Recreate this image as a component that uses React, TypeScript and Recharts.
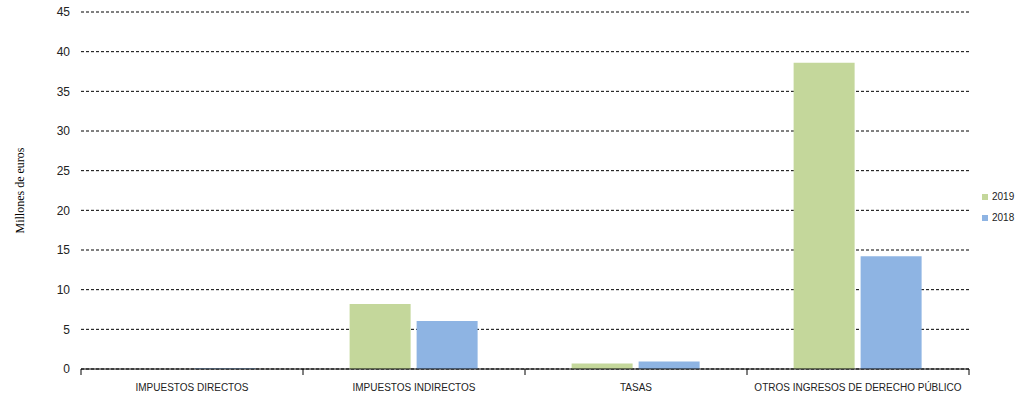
import React from 'react';
import { BarChart, Bar, XAxis, YAxis, CartesianGrid, Legend, Label } from 'recharts';

// categories and values (millions of euros)
const categories = ['IMPUESTOS DIRECTOS', 'IMPUESTOS INDIRECTOS', 'TASAS', 'OTROS INGRESOS DE DERECHO PÚBLICO'];
const values2019 = [0, 8.2, 0.7, 38.6];
const values2018 = [0.1, 6.05, 0.95, 14.2];
const yTicks = [0, 5, 10, 15, 20, 25, 30, 35, 40, 45];

const data = categories.map((name, i) => ({ name, y2019: values2019[i], y2018: values2018[i] }));

const WIDTH = 1021;
const HEIGHT = 399;
const MARGIN = { top: 12, right: 52, bottom: 0, left: 0 };
const Y_AXIS_WIDTH = 81;
const BAND = (WIDTH - MARGIN.left - MARGIN.right - Y_AXIS_WIDTH) / categories.length;

const CategoryTick = (props: any) => {
  const { x, y, payload } = props;
  const last = payload.index === categories.length - 1;
  return (
    <g>
      <line x1={x - BAND / 2} x2={x - BAND / 2} y1={y} y2={y + 6} stroke="#000" />
      {last && <line x1={x + BAND / 2} x2={x + BAND / 2} y1={y} y2={y + 6} stroke="#000" />}
      <text x={x} y={y + 22} textAnchor="middle" fontSize={10} fill="#222" fontFamily="'Liberation Sans', Arial, sans-serif">
        {payload.value}
      </text>
    </g>
  );
};

const YTitle = (props: any) => {
  const { viewBox } = props;
  const cx = viewBox.x + 20;
  const cy = viewBox.y + viewBox.height / 2;
  return (
    <text
      x={cx}
      y={cy}
      transform={`rotate(-90, ${cx}, ${cy})`}
      textAnchor="middle"
      dominantBaseline="central"
      fontSize={12}
      fill="#000"
      fontFamily="'Liberation Serif', 'Times New Roman', serif"
    >
      Millones de euros
    </text>
  );
};

// keep series order (2019 first), recharts sorts by name otherwise
const LegendContent = (props: any) => {
  const items = (props.payload || []).slice().sort((a: any, b: any) => String(b.value).localeCompare(String(a.value)));
  return (
    <div style={{ fontFamily: "'Liberation Sans', Arial, sans-serif", fontSize: 10, color: '#222', whiteSpace: 'nowrap' }}>
      {items.map((item: any) => (
        <div key={item.value} style={{ display: 'flex', alignItems: 'center', height: 21 }}>
          <span style={{ display: 'inline-block', width: 6, height: 6, background: item.color, marginRight: 4 }} />
          {item.value}
        </div>
      ))}
    </div>
  );
};

export default function App() {
  return (
    <>
      <style>{'body { margin: 0; }'}</style>
      <BarChart width={WIDTH} height={HEIGHT} data={data} margin={MARGIN} barCategoryGap="21%" barGap={6}>
        <CartesianGrid vertical={false} stroke="#000" strokeDasharray="3 2" />
        <XAxis
          dataKey="name"
          height={30}
          axisLine={{ stroke: '#000' }}
          tickLine={false}
          tickSize={0}
          tickMargin={0}
          interval={0}
          tick={<CategoryTick />}
        />
        <YAxis
          width={Y_AXIS_WIDTH}
          domain={[0, 45]}
          ticks={yTicks}
          axisLine={false}
          tickLine={false}
          tickSize={0}
          tickMargin={11}
          tick={{ fontSize: 12, fill: '#222', fontFamily: "'Liberation Sans', Arial, sans-serif" }}
        >
          <Label content={<YTitle />} />
        </YAxis>
        <Legend
          layout="vertical"
          align="center"
          verticalAlign="middle"
          wrapperStyle={{ left: 982, top: 186, width: 38 }}
          content={<LegendContent />}
        />
        <Bar dataKey="y2019" name="2019" fill="#C4D79B" isAnimationActive={false} />
        <Bar dataKey="y2018" name="2018" fill="#8EB4E3" isAnimationActive={false} />
      </BarChart>
    </>
  );
}
